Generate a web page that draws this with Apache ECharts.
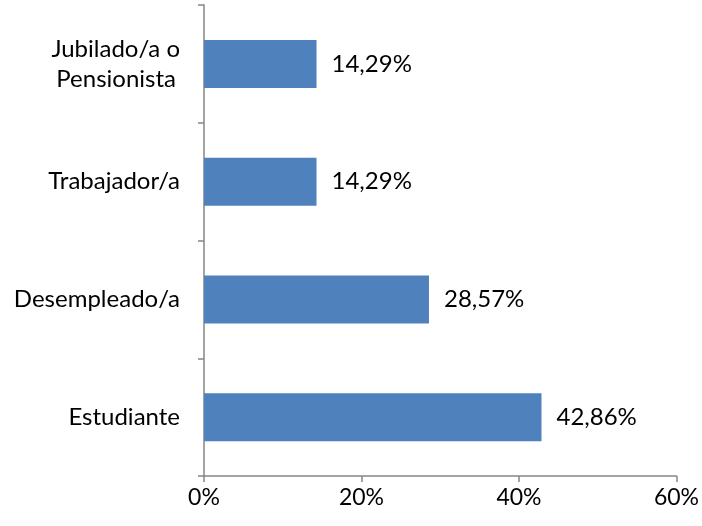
<!DOCTYPE html>
<html>
<head>
<meta charset="utf-8">
<script src="https://cdn.jsdelivr.net/npm/echarts@6/dist/echarts.min.js"></script>
<style>
html, body { margin: 0; padding: 0; background: #fff; }
#chart { width: 702px; height: 526px; }
</style>
</head>
<body>
<div id="chart"></div>
<script>
// categories from bottom to top
var categories = ['Estudiante', 'Desempleado/a', 'Trabajador/a', 'Jubilado/a o\nPensionista'];
var values = [42.86, 28.57, 14.29, 14.29];
var tickLabels = ['0%', '20%', '40%', '60%'];

var axisGray = '#868686';
var font = 'Lato, "Open Sans", sans-serif';

var chart = echarts.init(document.getElementById('chart'));
chart.setOption({
    animation: false,
    grid: { left: 204, right: 25, top: 5, bottom: 50, containLabel: false },
    xAxis: {
        type: 'value',
        min: 0,
        max: 60,
        interval: 20,
        splitLine: { show: false },
        axisLine: { show: true, lineStyle: { color: axisGray, width: 1.5 } },
        axisTick: { show: true, length: 6, lineStyle: { color: axisGray, width: 1.5 } },
        axisLabel: {
            color: '#000',
            fontFamily: font,
            fontSize: 23,
            margin: 10,
            formatter: function (v) { return tickLabels[v / 20]; }
        }
    },
    yAxis: {
        type: 'category',
        data: categories,
        axisLine: { show: true, lineStyle: { color: axisGray, width: 1.5 } },
        axisTick: { show: true, length: 6, lineStyle: { color: axisGray, width: 1.5 } },
        axisLabel: {
            color: '#000',
            fontFamily: font,
            fontSize: 24,
            lineHeight: 30,
            margin: 24,
            formatter: function (v) {
                var parts = v.split('\n');
                if (parts.length == 1) return v;
                return '{a|' + parts[0] + '}\n{b|' + parts[1] + '}';
            },
            rich: {
                a: { fontFamily: font, fontSize: 24, lineHeight: 30, color: '#000' },
                b: { fontFamily: font, fontSize: 24, lineHeight: 30, color: '#000', padding: [0, 4, 0, 0] }
            }
        }
    },
    series: [{
        type: 'bar',
        data: values,
        barWidth: 48,
        itemStyle: { color: '#4f81bd' },
        label: {
            show: true,
            position: 'right',
            distance: 15,
            color: '#000',
            fontFamily: font,
            fontSize: 24,
            formatter: function (p) { return p.value.toFixed(2).replace('.', ',') + '%'; }
        }
    }]
});
</script>
</body>
</html>
